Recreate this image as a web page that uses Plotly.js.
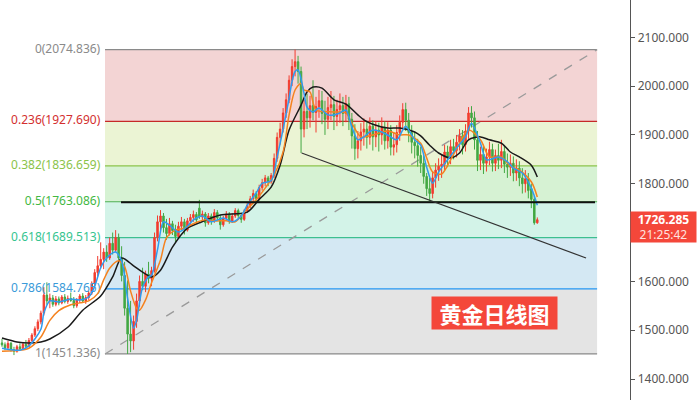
<!DOCTYPE html>
<html>
<head>
<meta charset="utf-8">
<script src="https://cdn.plot.ly/plotly-3.0.1.min.js"></script>
<style>html,body{margin:0;padding:0;background:#fff;}#chart{width:700px;height:400px;}</style>
</head>
<body>
<div id="chart"></div>
<script>
// ---- data ----
const open = [1474,1470,1464,1473,1460,1457,1466,1462,1471,1467, 1479,1490,1503,1517,1535,1572,1560,1566,1553,1564, 1556,1568,1559,1565,1561,1550,1562,1570,1560,1567, 1576,1596,1618,1632,1645,1660,1648,1678,1664,1690, 1648,1612,1545,1492,1478,1518,1560,1600,1590,1615, 1606,1622,1690,1722,1734,1710,1698,1718,1704,1692, 1713,1722,1705,1724,1731,1737,1750,1732,1738,1720, 1734,1725,1741,1730,1716,1729,1738,1723,1734,1745, 1735,1727,1744,1756,1769,1780,1770,1792,1802,1812, 1804,1817,1852,1895,1912,1945,1972,2012,2040,2050, 2030,1912,1948,1935,1960,1946,1958,1970,1944,1932, 1956,1962,1938,1952,1960,1944,1964,1932,1898,1872, 1888,1906,1912,1895,1918,1896,1910,1900,1915,1888, 1910,1875,1880,1905,1926,1952,1930,1905,1885,1878, 1858,1842,1815,1790,1780,1812,1828,1836,1840,1865, 1852,1876,1868,1885,1898,1880,1908,1945,1935,1890, 1848,1860,1842,1855,1870,1842,1858,1848,1866,1840, 1834,1842,1822,1832,1812,1800,1810,1790,1768,1720];
const high = [1482,1475,1478,1476,1466,1470,1473,1476,1480,1484, 1494,1508,1522,1540,1588,1598,1575,1572,1570,1569, 1572,1574,1571,1577,1568,1566,1574,1576,1572,1580, 1600,1625,1652,1680,1668,1674,1690,1700,1705,1698, 1672,1640,1602,1560,1530,1575,1612,1628,1622,1640, 1630,1700,1735,1746,1740,1728,1730,1724,1716,1722, 1732,1728,1730,1738,1745,1742,1767,1745,1742,1740, 1739,1748,1746,1736,1734,1744,1742,1740,1750,1749, 1741,1748,1762,1775,1788,1785,1798,1810,1818,1816, 1822,1862,1905,1925,1955,1985,2022,2055,2074.8,2062, 2040,1972,1985,1980,2012,1978,1992,1990,1970,1978, 1990,1980,1972,1985,1978,1982,1978,1945,1922,1908, 1924,1934,1928,1936,1930,1928,1925,1936,1928,1926, 1920,1906,1920,1940,1965,1966,1945,1920,1906,1892, 1876,1858,1822,1812,1826,1842,1852,1860,1880,1878, 1890,1892,1900,1912,1910,1922,1957,1959,1948,1908, 1876,1880,1872,1886,1882,1870,1882,1890,1878,1862, 1860,1856,1850,1846,1832,1828,1822,1800,1775,1731];
const low = [1466,1459,1461,1456,1449,1454,1458,1459,1463,1465, 1476,1486,1498,1512,1530,1552,1545,1548,1549,1551, 1553,1555,1554,1558,1545,1546,1556,1557,1554,1562, 1572,1590,1610,1626,1625,1640,1644,1655,1660,1640, 1600,1530,1451.3,1455,1460,1505,1548,1582,1578,1596, 1590,1618,1682,1705,1700,1685,1694,1695,1680,1688, 1705,1696,1702,1715,1722,1718,1728,1725,1712,1716, 1716,1720,1725,1706,1712,1724,1718,1720,1730,1728, 1720,1724,1740,1750,1762,1762,1766,1786,1795,1795, 1800,1812,1845,1880,1905,1935,1965,2000,2020,2005, 1863,1895,1912,1915,1930,1905,1935,1922,1900,1912, 1930,1910,1918,1925,1918,1926,1910,1872,1849,1852, 1868,1878,1872,1880,1868,1875,1866,1880,1870,1872, 1858,1858,1864,1888,1910,1908,1885,1862,1852,1835, 1822,1800,1775,1764,1770,1792,1806,1812,1826,1834, 1840,1850,1854,1868,1860,1866,1892,1915,1870,1826, 1828,1820,1825,1838,1825,1826,1830,1832,1822,1812, 1816,1805,1806,1795,1780,1782,1770,1750,1716,1718];
const close = [1470,1464,1473,1460,1457,1466,1462,1471,1467,1479, 1490,1503,1517,1535,1572,1560,1566,1553,1564,1556, 1568,1559,1565,1561,1550,1562,1570,1560,1567,1576, 1596,1618,1632,1645,1660,1648,1678,1664,1690,1648, 1612,1545,1492,1478,1518,1560,1600,1590,1615,1606, 1622,1690,1722,1734,1710,1698,1718,1704,1692,1713, 1722,1705,1724,1731,1737,1726,1732,1738,1720,1734, 1725,1741,1730,1716,1729,1738,1723,1734,1745,1735, 1727,1744,1756,1769,1780,1770,1792,1802,1812,1804, 1817,1852,1895,1912,1945,1972,2012,2040,2050,2030, 1912,1948,1935,1960,1946,1958,1970,1944,1932,1956, 1962,1938,1952,1960,1944,1964,1932,1898,1872,1888, 1906,1912,1895,1918,1896,1910,1900,1915,1888,1910, 1875,1880,1905,1926,1952,1930,1905,1885,1878,1858, 1842,1815,1790,1780,1812,1828,1836,1840,1865,1852, 1876,1868,1885,1898,1880,1908,1945,1935,1890,1848, 1860,1842,1855,1870,1842,1858,1848,1866,1840,1834, 1842,1822,1832,1812,1800,1810,1786,1768,1720,1726.285];

// moving averages (bar index -> price)
const maFastIdx = [0,6,9,13,14,16,19,23,26,29,31,33,35,38,40,42,44,45,47,49,50,52,54,56,59,62,64,67,70,74,77,80,82,85,87,90,92,94,96,97,98,99,101,102,104,106,109,111,113,115,117,119,121,124,127,130,132,134,135,138,140,142,144,146,149,152,155,157,160,162,166,169,171,174,177,179];
const maFastVal = [1463,1459,1468,1502,1535,1560,1558,1564,1562,1568,1590,1628,1648,1660,1642,1565,1504,1520,1588,1609,1612,1665,1722,1715,1701,1713,1726,1734,1722,1730,1722,1734,1756,1781,1801,1806,1855,1912,1975,2010,2030,2033,1985,1957,1947,1955,1941,1941,1945,1951,1916,1890,1896,1910,1906,1896,1890,1910,1918,1890,1879,1834,1801,1824,1849,1873,1896,1924,1883,1849,1855,1845,1832,1822,1791,1756];
const maMidIdx = [0,6,9,13,16,19,23,26,29,32,34,36,39,41,43,45,46,48,50,53,55,58,61,64,68,71,75,78,81,85,88,91,94,96,98,100,101,103,105,111,115,117,120,124,129,133,136,140,142,144,147,150,153,156,160,163,167,170,173,177,179];
const maMidVal = [1457,1459,1463,1486,1520,1540,1552,1556,1560,1575,1603,1627,1642,1630,1580,1545,1541,1562,1597,1644,1689,1705,1709,1718,1726,1724,1724,1722,1742,1767,1791,1818,1865,1941,1992,2006,1992,1988,1951,1947,1945,1924,1896,1900,1908,1900,1900,1883,1853,1824,1820,1849,1883,1910,1890,1855,1855,1836,1828,1804,1773];
const maSlowIdx = [0,5,9,13,16,22,27,33,37,40,44,47,50,53,57,62,66,73,82,86,90,93,96,100,102,104,107,111,115,119,121,124,129,133,138,140,143,146,150,153,156,160,163,167,170,173,177,179];
const maSlowVal = [1484,1476,1474,1476,1482,1506,1541,1570,1609,1648,1632,1619,1609,1623,1670,1709,1720,1736,1742,1768,1793,1838,1910,1961,1988,1998,1996,1972,1963,1941,1931,1922,1914,1914,1906,1898,1879,1863,1853,1863,1890,1896,1890,1883,1865,1855,1838,1814];

// Fibonacci retracement
const fibHigh = 2074.836;
const fibLow = 1451.336;
const fibRatios = [0, 0.236, 0.382, 0.5, 0.618, 0.786, 1];
const trendLine = {i0: 100.2, p0: 1863.0, i1: 195.3, p1: 1647.9};
const lastPrice = 1726.285;
const lastTime = "21:25:42";
const yAxisTicks = [1400,1500,1600,1800,1900,2000,2100]; // 1700 is hidden behind the price tag
const chartLabel = "黄金日线图";

// ---- styles ----
const fibLineColors = ["#8a8a8a","#c62828","#8bc34a","#4caf50","#3dbf90","#2196f3","#8a8a8a"];
const fibTextColors = ["#8a8a8a","#d32f2f","#8bc34a","#43b843","#35c48f","#3a9ad9","#8a8a8a"];
const fibZoneColors = ["#f3d4d4","#ebf4d4","#d6f2d3","#d3f3e8","#d4e8f3","#e4e4e4"];
const fibX0 = 34.45, fibX1 = 199.0;

const idx = close.map((_, i) => i);
const levels = fibRatios.map(r => fibHigh - r * (fibHigh - fibLow));

const shapes = [];
for (let k = 0; k < 6; k++) {
  shapes.push({type:'rect', layer:'below', xref:'x', yref:'y', x0:fibX0, x1:fibX1, y0:levels[k+1], y1:levels[k], fillcolor:fibZoneColors[k], line:{width:0}});
}
levels.forEach((lv, k) => {
  shapes.push({type:'line', layer:'below', xref:'x', yref:'y', x0:fibX0, x1:fibX1, y0:lv, y1:lv, line:{color:fibLineColors[k], width:1.2}});
});
shapes.push({type:'line', layer:'below', xref:'x', yref:'y', x0:fibX0, x1:fibX1, y0:fibLow, y1:fibHigh, line:{color:'#9a9a9a', width:1.3, dash:'dash'}});
shapes.push({type:'line', layer:'above', xref:'x', yref:'y', x0:39.8, x1:198.3, y0:1762, y1:1762, line:{color:'#111', width:2}});
shapes.push({type:'line', layer:'above', xref:'x', yref:'y', x0:trendLine.i0, x1:trendLine.i1, y0:trendLine.p0, y1:trendLine.p1, line:{color:'#333', width:1.2}});

const traces = [
  {type:'scatter', mode:'text', x:fibRatios.map(()=>fibX0 - 1.6), y:levels,
   text:fibRatios.map((r,k)=> r + '(' + levels[k].toFixed(3) + ')'),
   textposition:'middle left', textfont:{family:'Noto Sans, sans-serif', size:12, color:fibTextColors},
   hoverinfo:'skip', showlegend:false, cliponaxis:false},
  {type:'candlestick', x:idx, open:open, high:high, low:low, close:close,
   increasing:{line:{color:'#f23c2f', width:1}, fillcolor:'#f23c2f'},
   decreasing:{line:{color:'#43a843', width:1}, fillcolor:'#43a843'},
   whiskerwidth:0, hoverinfo:'skip', showlegend:false},
  {type:'scatter', mode:'lines', x:maSlowIdx, y:maSlowVal, line:{color:'#1a1a1a', width:1.5, shape:'spline', smoothing:0.8}, hoverinfo:'skip', showlegend:false},
  {type:'scatter', mode:'lines', x:maMidIdx, y:maMidVal, line:{color:'#f5821f', width:1.5, shape:'spline', smoothing:0.8}, hoverinfo:'skip', showlegend:false},
  {type:'scatter', mode:'lines', x:maFastIdx, y:maFastVal, line:{color:'#2f9bef', width:1.5, shape:'spline', smoothing:0.8}, hoverinfo:'skip', showlegend:false}
];

const layout = {
  width:700, height:400,
  margin:{l:0, r:70, t:0, b:0},
  paper_bgcolor:'#fff', plot_bgcolor:'#fff',
  showlegend:false, hovermode:false, dragmode:false,
  font:{family:'Noto Sans, sans-serif', size:12, color:'#555'},
  xaxis:{range:[-0.67, 210.0], visible:false, showgrid:false, zeroline:false, rangeslider:{visible:false}, fixedrange:true},
  yaxis:{range:[1357.0, 2176.4], side:'right', showgrid:false, zeroline:false,
    showline:true, linecolor:'#555', linewidth:1.3, ticks:'outside', ticklen:4, tickcolor:'#555',
    tickvals:yAxisTicks, tickformat:'.3f', tickfont:{size:12, color:'#555'}, fixedrange:true},
  shapes:shapes,
  annotations:[
    {xref:'x', yref:'y', x:164.7, y:1535.2, text:'<b>'+chartLabel+'</b>', showarrow:false,
     font:{family:'Noto Sans CJK SC, sans-serif', size:22, color:'#fff'}, bgcolor:'#f4473a',
     width:125, height:32, borderpad:0, xanchor:'center', yanchor:'middle'},
    {xref:'paper', yref:'y', x:1, y:lastPrice, xanchor:'left', yanchor:'top', yshift:9,
     text:'<b>'+lastPrice.toFixed(3)+'</b><br><span style="color:#ffe3df">'+lastTime+'</span>',
     showarrow:false, font:{family:'Noto Sans, sans-serif', size:12, color:'#fff'},
     bgcolor:'#f4473a', width:63, height:28, borderpad:1, align:'center'}
  ]
};

Plotly.newPlot('chart', traces, layout, {displayModeBar:false, staticPlot:true});
</script>
</body>
</html>
